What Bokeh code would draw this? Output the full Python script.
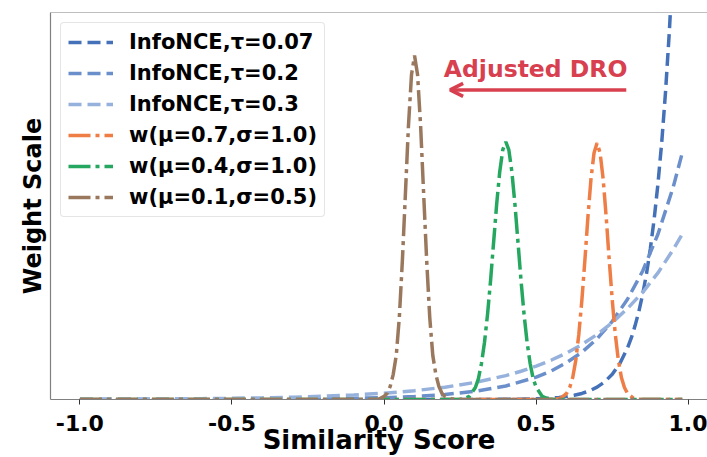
import numpy as np
from bokeh.plotting import figure
from bokeh.models import (Range1d, FixedTicker, NumeralTickFormatter, Label,
                          Arrow, OpenHead, Span)
from bokeh.embed import file_html
from bokeh.resources import INLINE

# ---- data (y in "weight scale" units, top of frame = 10) ----
tick_values = [-1.0, -0.5, 0.0, 0.5, 1.0]

# InfoNCE, tau = 0.07
nce007_x = [-1.0, 0.0, 0.3, 0.4, 0.5, 0.55, 0.575, 0.6, 0.625, 0.65, 0.675, 0.7, 0.725,
            0.75, 0.775, 0.8, 0.8125, 0.825, 0.8375, 0.85, 0.8625, 0.875, 0.8875, 0.9,
            0.9125, 0.925, 0.9375, 0.95, 0.98]
nce007_y = [0.0, 0.00001, 0.001, 0.0044, 0.018, 0.037, 0.054, 0.076, 0.109, 0.156, 0.223,
            0.319, 0.457, 0.652, 0.932, 1.33, 1.59, 1.91, 2.28, 2.72, 3.25, 3.89, 4.65,
            5.56, 6.64, 7.94, 9.50, 11.35, 17.5]

# InfoNCE, tau = 0.2
nce02_x = [-1.0, -0.8, -0.6, -0.4, -0.2, -0.1, 0.0, 0.1, 0.2, 0.3, 0.4, 0.5, 0.55, 0.6,
           0.65, 0.7, 0.75, 0.8, 0.85, 0.9, 0.95, 0.98]
nce02_y = [0.0003, 0.0009, 0.0024, 0.0064, 0.0174, 0.0288, 0.0474, 0.078, 0.129, 0.212,
           0.350, 0.577, 0.741, 0.952, 1.22, 1.57, 2.02, 2.59, 3.32, 4.27, 5.48, 6.37]

# InfoNCE, tau = 0.3
nce03_x = [-1.0, -0.9, -0.8, -0.7, -0.6, -0.5, -0.4, -0.3, -0.2, -0.1, 0.0, 0.1, 0.2, 0.3,
           0.4, 0.45, 0.5, 0.55, 0.6, 0.65, 0.7, 0.75, 0.8, 0.85, 0.9, 0.95, 0.98]
nce03_y = [0.0058, 0.0081, 0.0113, 0.0158, 0.022, 0.0308, 0.043, 0.060, 0.0837, 0.117,
           0.163, 0.228, 0.318, 0.443, 0.618, 0.73, 0.863, 1.02, 1.204, 1.42, 1.68, 1.99,
           2.35, 2.77, 3.27, 3.87, 4.27]

# w(mu=0.7, sigma=1.0)
w07_x = [-1.0, 0.0, 0.5, 0.56, 0.58, 0.60, 0.61, 0.62, 0.63, 0.64, 0.65, 0.66, 0.67, 0.68,
         0.69, 0.70, 0.71, 0.72, 0.73, 0.74, 0.75, 0.76, 0.77, 0.78, 0.79, 0.80, 0.82,
         0.84, 0.98]
w07_y = [0.0, 0.0, 0.0, 0.0, 0.03, 0.16, 0.31, 0.57, 1.01, 1.68, 2.56, 3.60, 4.72, 5.70,
         6.37, 6.63, 6.37, 5.70, 4.72, 3.60, 2.56, 1.68, 1.01, 0.57, 0.31, 0.16, 0.03,
         0.0, 0.0]

# w(mu=0.4, sigma=1.0)
w04_x = [-1.0, 0.0, 0.24, 0.26, 0.28, 0.30, 0.31, 0.32, 0.33, 0.34, 0.35, 0.36, 0.37,
         0.38, 0.39, 0.40, 0.41, 0.42, 0.43, 0.44, 0.45, 0.46, 0.47, 0.48, 0.49, 0.50,
         0.52, 0.54, 0.56, 0.98]
w04_y = [0.0, 0.0, 0.0, 0.01, 0.08, 0.31, 0.54, 0.93, 1.48, 2.20, 3.08, 4.07, 5.05, 5.88,
         6.45, 6.66, 6.45, 5.88, 5.05, 4.07, 3.08, 2.20, 1.48, 0.93, 0.54, 0.31, 0.08,
         0.01, 0.0, 0.0]

# w(mu=0.1, sigma=0.5)
w01_x = [-1.0, -0.5, -0.1, -0.02, 0.0, 0.01, 0.02, 0.03, 0.04, 0.05, 0.06, 0.07, 0.08,
         0.09, 0.10, 0.11, 0.12, 0.13, 0.14, 0.15, 0.16, 0.17, 0.18, 0.19, 0.20, 0.22,
         0.24, 0.5, 0.98]
w01_y = [0.0, 0.0, 0.0, 0.0, 0.08, 0.16, 0.34, 0.65, 1.14, 2.12, 3.58, 5.31, 7.07, 8.39,
         8.89, 8.39, 7.07, 5.31, 3.58, 2.12, 1.14, 0.65, 0.34, 0.16, 0.08, 0.02, 0.0,
         0.0, 0.0]

labels = ["InfoNCE,τ=0.07", "InfoNCE,τ=0.2", "InfoNCE,τ=0.3",
          "w(μ=0.7,σ=1.0)", "w(μ=0.4,σ=1.0)", "w(μ=0.1,σ=0.5)"]

# ---- styling ----
C007, C02, C03 = "#4471b8", "#6b8fcb", "#96b1dc"
CORANGE, CGREEN, CBROWN = "#ee7e45", "#25a760", "#9a785d"
RED = "#d8404f"
SPINE = "#808080"
FONT = "DejaVu Sans"

p = figure(width=707, height=457, output_backend="svg", toolbar_location=None,
           x_range=Range1d(-1.0966, 1.0630), y_range=Range1d(0, 10),
           min_border_left=50, min_border_right=0, min_border_top=12,
           min_border_bottom=58, outline_line_color=None,
           background_fill_color="white", border_fill_color="white")

p.xgrid.visible = False
p.ygrid.visible = False

DASH = "13 6"
DASHDOT = "22 5 4 5"
LW = 3.5

p.line(nce007_x, nce007_y, line_color=C007, line_width=LW, line_dash=DASH, legend_label=labels[0])
p.line(nce02_x, nce02_y, line_color=C02, line_width=LW, line_dash=DASH, legend_label=labels[1])
p.line(nce03_x, nce03_y, line_color=C03, line_width=LW, line_dash=DASH, legend_label=labels[2])
p.line(w07_x, w07_y, line_color=CORANGE, line_width=LW, line_dash=DASHDOT, legend_label=labels[3])
p.line(w04_x, w04_y, line_color=CGREEN, line_width=LW, line_dash=DASHDOT, legend_label=labels[4])
p.line(w01_x, w01_y, line_color=CBROWN, line_width=LW, line_dash=DASHDOT, legend_label=labels[5])

# x axis
xa = p.xaxis[0]
xa.ticker = FixedTicker(ticks=tick_values, minor_ticks=[])
xa.formatter = NumeralTickFormatter(format="0.0")
xa.axis_line_color = SPINE
xa.axis_line_width = 1.2
xa.major_tick_line_color = "#333333"
xa.major_tick_in = 0
xa.major_tick_out = 5
xa.major_label_standoff = 10
xa.major_label_text_font = FONT
xa.major_label_text_font_style = "bold"
xa.major_label_text_font_size = "22px"
xa.major_label_text_color = "black"
xa.axis_label = "Similarity Score"
xa.axis_label_standoff = -9
xa.axis_label_text_font = FONT
xa.axis_label_text_font_style = "bold"
xa.axis_label_text_font_size = "26px"
xa.axis_label_text_color = "black"

# y axis (spine only)
ya = p.yaxis[0]
ya.ticker = FixedTicker(ticks=[], minor_ticks=[])
ya.major_label_text_font_size = "0px"
ya.major_label_standoff = 0
ya.major_tick_line_color = None
ya.minor_tick_line_color = None
ya.major_tick_out = 0
ya.axis_line_color = SPINE
ya.axis_line_width = 1.2
ya.axis_label = "Weight Scale"
ya.axis_label_standoff = 4
ya.axis_label_text_font = FONT
ya.axis_label_text_font_style = "bold"
ya.axis_label_text_font_size = "24px"
ya.axis_label_text_color = "black"

# top spine
p.add_layout(Span(location=10, dimension="width", line_color=SPINE, line_width=1.2))

# annotation
p.add_layout(Arrow(end=OpenHead(size=13, line_color=RED, line_width=3.5),
                   x_start=0.796, y_start=8.0, x_end=0.217, y_end=8.0,
                   line_color=RED, line_width=3.5))
p.add_layout(Label(x=0.498, y=8.55, text="Adjusted DRO", text_align="center",
                   text_baseline="alphabetic", text_font=FONT, text_font_style="bold",
                   text_font_size="23.5px", text_color=RED))

# legend
lg = p.legend[0]
lg.location = "top_left"
lg.margin = 10
lg.padding = 7
lg.spacing = 7
lg.glyph_width = 45
lg.glyph_height = 24
lg.label_height = 24
lg.label_standoff = 16
lg.label_text_font = FONT
lg.label_text_font_style = "bold"
lg.label_text_font_size = "21px"
lg.label_text_color = "black"
lg.border_line_color = "#cccccc"
lg.border_line_width = 1
lg.background_fill_color = "white"
lg.background_fill_alpha = 0.8
if "border_radius" in lg.properties():
    lg.border_radius = 4

open("out.html", "w").write(file_html(p, INLINE))
